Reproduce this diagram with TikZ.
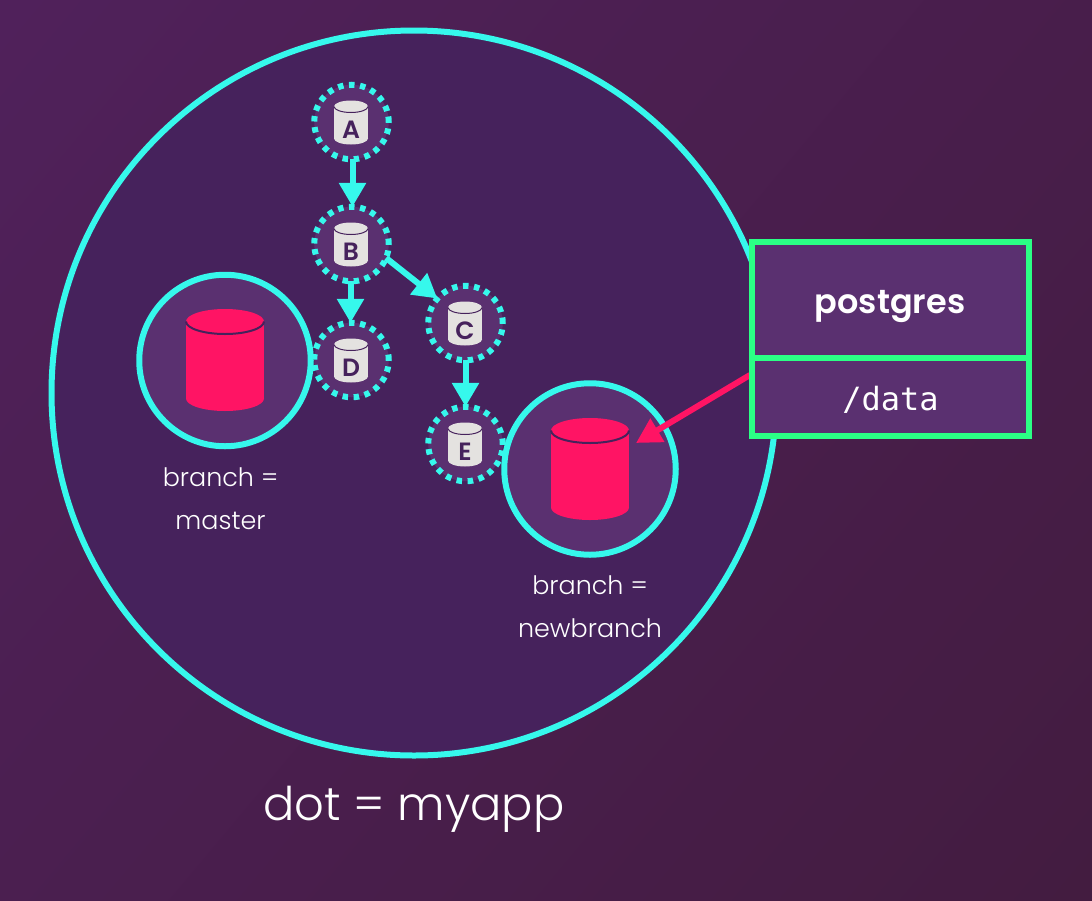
\documentclass[tikz,border=0pt]{standalone}
\usepackage{fontspec}
\usetikzlibrary{arrows.meta}
\setmainfont{Poppins}
\newfontfamily\lightfont{Poppins Light}
\newfontfamily\strongfont{Poppins SemiBold}
\newfontfamily\codefont{DejaVu Sans Mono}
\definecolor{bgA}{HTML}{50215B}
\definecolor{bgB}{HTML}{431C40}
\definecolor{inner}{HTML}{46225C}
\definecolor{disc}{HTML}{5A3070}
\definecolor{aqua}{HTML}{36F8EC}
\definecolor{mint}{HTML}{2BFF85}
\definecolor{hot}{HTML}{FF1464}
\definecolor{canister}{HTML}{E4E2E0}
\tikzset{
  bigring/.style={circle,draw=aqua,line width=6pt,fill=inner,minimum size=725pt,inner sep=0pt,outer sep=0pt},
  branchring/.style={circle,draw=aqua,line width=6pt,fill=disc,minimum size=171.5pt,inner sep=0pt,outer sep=0pt},
  commitring/.style={circle,draw=aqua,line width=6pt,dash pattern=on 5.5pt off 5.6pt,fill=disc,minimum size=74.5pt,inner sep=0pt,outer sep=0pt},
  flow/.style={draw=aqua,line width=6pt,-{Triangle[width=26pt,length=24pt]}},
  mount/.style={draw=hot,line width=6pt,-{Triangle[width=26pt,length=25pt]}},
  boxcell/.style={rectangle,draw=mint,line width=6pt,fill=disc,minimum width=277pt,inner sep=0pt,outer sep=0pt},
  whitetext/.style={text=white,inner sep=0pt,anchor=base},
  letter/.style={text=inner,inner sep=0pt,anchor=base,font=\strongfont\fontsize{25}{25}\selectfont},
}
% #1 centre, #2 half width, #3 half height, #4 ellipse ry, #5 body colour, #6 rim width
\newcommand{\canister}[6]{%
  \begin{scope}[shift={(#1)}]
    \fill[#5] (0,#3) ellipse[x radius=#2pt,y radius=#4pt];
    \fill[#5] (-#2,-#3) rectangle (#2,#3);
    \fill[#5] (0,-#3) ellipse[x radius=#2pt,y radius=#4pt];
    \draw[inner,line width=#6pt] (-#2,-#3) arc[start angle=180,end angle=360,x radius=#2pt,y radius=#4pt];
  \end{scope}}
\begin{document}
\begin{tikzpicture}[x=1pt,y=-1pt]
\useasboundingbox (0,0) rectangle (1092,900);
\shade[top color=bgA,bottom color=bgB,shading angle=50] (-200,-200) rectangle (1292,1100);
\node[bigring] (dot) at (414,393) {};
\node[commitring] (nA) at (351.5,122) {};
\node[commitring] (nB) at (351.5,244) {};
\node[commitring] (nD) at (351.5,360) {};
\node[commitring] (nC) at (465.5,323) {};
\node[commitring] (nE) at (465.5,444) {};
\node[branchring] (master) at (225,360.5) {};
\node[branchring] (newbranch) at (590,469) {};
\canister{351,122.5}{17}{16}{6}{canister}{1}
\canister{351,244.5}{17}{16}{6}{canister}{1}
\canister{351,360.5}{17}{16}{6}{canister}{1}
\canister{465,323.5}{17}{16}{6}{canister}{1}
\canister{465,444.5}{17}{16}{6}{canister}{1}
\canister{225,360}{39}{38.5}{12.5}{hot}{2}
\canister{590,469}{39}{38.5}{12.5}{hot}{2}
\node[letter] (la) at (351,138.5) {A};
\node[letter] (lb) at (351,260.5) {B};
\node[letter] (ld) at (351,376.5) {D};
\node[letter] (lc) at (465,339.5) {C};
\node[letter] (le) at (465,460.5) {E};
\draw[flow] ([xshift=1pt]nA.south) -- ([xshift=1pt]nB.north);
\draw[flow] ([xshift=-1pt]nB.south) -- ([xshift=-1pt]nD.north);
\draw[flow] (nB.-22) -- (nC.139);
\draw[flow] (nC.south) -- (nE.north);
\coordinate (mountstart) at (750,375);
\coordinate (mountend) at (636,443);
\draw[mount] (mountstart) -- (mountend);
\node[boxcell,minimum height=116pt] (pg) at (890.5,300) {};
\node[boxcell,minimum height=78pt] (data) at (890.5,397) {};
\node[whitetext,font=\strongfont\fontsize{33.5}{33.5}\selectfont] (pgtext) at (890,313) {postgres};
\node[whitetext,font=\codefont\fontsize{32}{32}\selectfont] (datatext) at (890.5,410) {/data};
\node[whitetext,font=\lightfont\fontsize{25.4}{25.4}\selectfont] (m1) at (220.5,486) {branch =};
\node[whitetext,font=\lightfont\fontsize{25.4}{25.4}\selectfont] (m2) at (220.5,529) {master};
\node[whitetext,font=\lightfont\fontsize{25.4}{25.4}\selectfont] (n1) at (590,594) {branch =};
\node[whitetext,font=\lightfont\fontsize{25.4}{25.4}\selectfont] (n2) at (590,637) {newbranch};
\node[whitetext,font=\lightfont\fontsize{46.4}{46.4}\selectfont] (title) at (414,820) {dot = myapp};
\end{tikzpicture}
\end{document}
